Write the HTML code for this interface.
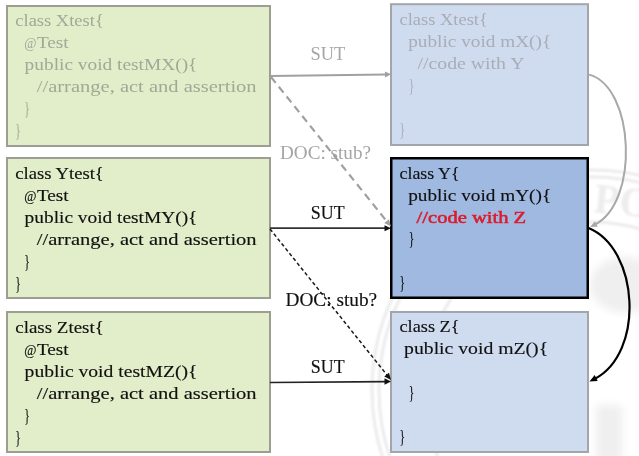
<!DOCTYPE html>
<html><head><meta charset="utf-8"><style>
html,body{margin:0;padding:0;background:#fff;width:639px;height:456px;overflow:hidden}
svg{display:block;will-change:transform}
text{font-family:"Liberation Serif",serif;white-space:pre;stroke-width:0.15px}
</style></head><body>
<svg width="639" height="456" viewBox="0 0 639 456">
<defs><filter id="bl" x="-50%" y="-50%" width="200%" height="200%"><feGaussianBlur stdDeviation="4"/></filter><filter id="bl1"><feGaussianBlur stdDeviation="0.8"/></filter></defs>
<g fill="none" stroke="#ebebeb" stroke-width="3" filter="url(#bl1)"><circle cx="592" cy="390" r="220"/><circle cx="592" cy="390" r="213"/><circle cx="592" cy="390" r="168"/></g>
<text x="594" y="214" font-size="42" font-weight="bold" fill="#ededed" stroke="none" transform="rotate(6 610 200)" filter="url(#bl1)">PO</text>
<g fill="#efefef" filter="url(#bl)"><ellipse cx="625" cy="285" rx="35" ry="28"/><rect x="596" y="405" width="26" height="60"/></g>
<rect x="7" y="6" width="263" height="140" fill="#e2eec9" stroke="#9c9e94" stroke-width="2"/>
<text x="15.3" y="25.60" textLength="88.5" lengthAdjust="spacingAndGlyphs" fill="#a2a898" stroke="none" font-weight="normal" font-size="17.3">class Xtest{</text>
<text x="24.3" y="47.65" textLength="12.2" lengthAdjust="spacingAndGlyphs" fill="#a2a898" stroke="none" font-weight="normal" font-size="14.5">@</text>
<text x="36.9" y="47.65" textLength="31.8" lengthAdjust="spacingAndGlyphs" fill="#a2a898" stroke="none" font-weight="normal" font-size="17.3">Test</text>
<text x="24.6" y="69.70" textLength="172.8" lengthAdjust="spacingAndGlyphs" fill="#a2a898" stroke="none" font-weight="normal" font-size="17.3">public void testMX(){</text>
<text x="36.8" y="91.75" textLength="219.8" lengthAdjust="spacingAndGlyphs" fill="#a2a898" stroke="none" font-weight="normal" font-size="17.3">//arrange, act and assertion</text>
<text x="24.3" y="114.60" textLength="5.6" lengthAdjust="spacingAndGlyphs" fill="#a2a898" stroke="none" font-weight="normal" font-size="19.5">}</text>
<text x="15.2" y="136.65" textLength="5.6" lengthAdjust="spacingAndGlyphs" fill="#a2a898" stroke="none" font-weight="normal" font-size="19.5">}</text>
<rect x="7" y="158" width="263" height="140" fill="#e2eec9" stroke="#9c9e94" stroke-width="2"/>
<text x="15.3" y="179.20" textLength="88.5" lengthAdjust="spacingAndGlyphs" fill="#111" stroke="#111" font-weight="normal" font-size="17.3">class Ytest{</text>
<text x="24.3" y="201.15" textLength="12.2" lengthAdjust="spacingAndGlyphs" fill="#111" stroke="#111" font-weight="normal" font-size="14.5">@</text>
<text x="36.9" y="201.15" textLength="31.8" lengthAdjust="spacingAndGlyphs" fill="#111" stroke="#111" font-weight="normal" font-size="17.3">Test</text>
<text x="24.6" y="223.10" textLength="172.8" lengthAdjust="spacingAndGlyphs" fill="#111" stroke="#111" font-weight="normal" font-size="17.3">public void testMY(){</text>
<text x="36.8" y="245.05" textLength="219.8" lengthAdjust="spacingAndGlyphs" fill="#111" stroke="#111" font-weight="normal" font-size="17.3">//arrange, act and assertion</text>
<text x="24.3" y="267.80" textLength="5.6" lengthAdjust="spacingAndGlyphs" fill="#111" stroke="#111" font-weight="normal" font-size="19.5">}</text>
<text x="15.2" y="289.75" textLength="5.6" lengthAdjust="spacingAndGlyphs" fill="#111" stroke="#111" font-weight="normal" font-size="19.5">}</text>
<rect x="7" y="312" width="263" height="140" fill="#e2eec9" stroke="#9c9e94" stroke-width="2"/>
<text x="15.3" y="332.90" textLength="88.5" lengthAdjust="spacingAndGlyphs" fill="#111" stroke="#111" font-weight="normal" font-size="17.3">class Ztest{</text>
<text x="24.3" y="355.05" textLength="12.2" lengthAdjust="spacingAndGlyphs" fill="#111" stroke="#111" font-weight="normal" font-size="14.5">@</text>
<text x="36.9" y="355.05" textLength="31.8" lengthAdjust="spacingAndGlyphs" fill="#111" stroke="#111" font-weight="normal" font-size="17.3">Test</text>
<text x="24.6" y="377.20" textLength="172.8" lengthAdjust="spacingAndGlyphs" fill="#111" stroke="#111" font-weight="normal" font-size="17.3">public void testMZ(){</text>
<text x="36.8" y="399.35" textLength="219.8" lengthAdjust="spacingAndGlyphs" fill="#111" stroke="#111" font-weight="normal" font-size="17.3">//arrange, act and assertion</text>
<text x="24.3" y="422.30" textLength="5.6" lengthAdjust="spacingAndGlyphs" fill="#111" stroke="#111" font-weight="normal" font-size="19.5">}</text>
<text x="15.2" y="444.45" textLength="5.6" lengthAdjust="spacingAndGlyphs" fill="#111" stroke="#111" font-weight="normal" font-size="19.5">}</text>
<rect x="391" y="4.2" width="197" height="140.8" fill="#cfdbef" stroke="#a2a6ab" stroke-width="2"/>
<text x="399.5" y="24.70" textLength="88.3" lengthAdjust="spacingAndGlyphs" fill="#a8adb6" stroke="none" font-weight="normal" font-size="17.3">class Xtest{</text>
<text x="408.2" y="46.75" textLength="143" lengthAdjust="spacingAndGlyphs" fill="#a8adb6" stroke="none" font-weight="normal" font-size="17.3">public void mX(){</text>
<text x="417.5" y="68.80" textLength="107" lengthAdjust="spacingAndGlyphs" fill="#a8adb6" stroke="none" font-weight="normal" font-size="17.3">//code with Y</text>
<text x="408.8" y="91.65" textLength="5.6" lengthAdjust="spacingAndGlyphs" fill="#a8adb6" stroke="none" font-weight="normal" font-size="19.5">}</text>
<text x="399.4" y="135.75" textLength="5.6" lengthAdjust="spacingAndGlyphs" fill="#a8adb6" stroke="none" font-weight="normal" font-size="19.5">}</text>
<rect x="391.25" y="158.25" width="196.5" height="139.5" fill="#a0b9e1" stroke="#000" stroke-width="2.5"/>
<text x="399.5" y="178.80" textLength="60" lengthAdjust="spacingAndGlyphs" fill="#111" stroke="#111" font-weight="normal" font-size="17.3">class Y{</text>
<text x="408.2" y="200.65" textLength="143" lengthAdjust="spacingAndGlyphs" fill="#111" stroke="#111" font-weight="normal" font-size="17.3">public void mY(){</text>
<text x="416.6" y="223.00" textLength="109.6" lengthAdjust="spacingAndGlyphs" fill="#da1c2c" stroke="#da1c2c" font-weight="normal" font-size="17.3" style="stroke-width:0.55px">//code with Z</text>
<text x="408.8" y="245.15" textLength="5.6" lengthAdjust="spacingAndGlyphs" fill="#111" stroke="#111" font-weight="normal" font-size="19.5">}</text>
<text x="399.4" y="288.85" textLength="5.6" lengthAdjust="spacingAndGlyphs" fill="#111" stroke="#111" font-weight="normal" font-size="19.5">}</text>
<rect x="391" y="312" width="197" height="140" fill="#cfdbef" stroke="#a2a6ab" stroke-width="2"/>
<text x="399.5" y="331.60" textLength="60" lengthAdjust="spacingAndGlyphs" fill="#111" stroke="#111" font-weight="normal" font-size="17.3">class Z{</text>
<text x="404.1" y="353.75" textLength="144" lengthAdjust="spacingAndGlyphs" fill="#111" stroke="#111" font-weight="normal" font-size="17.3">public void mZ(){</text>
<text x="408.8" y="398.85" textLength="5.6" lengthAdjust="spacingAndGlyphs" fill="#111" stroke="#111" font-weight="normal" font-size="19.5">}</text>
<text x="399.4" y="443.15" textLength="5.6" lengthAdjust="spacingAndGlyphs" fill="#111" stroke="#111" font-weight="normal" font-size="19.5">}</text>
<text x="310.6" y="59.80" textLength="34.7" lengthAdjust="spacingAndGlyphs" fill="#a5a5a5" stroke="none" font-weight="normal" font-size="18.8">SUT</text>
<text x="280" y="158.60" textLength="91" lengthAdjust="spacingAndGlyphs" fill="#a5a5a5" stroke="none" font-weight="normal" font-size="18.8">DOC: stub?</text>
<text x="310.8" y="219.00" textLength="33.8" lengthAdjust="spacingAndGlyphs" fill="#111" stroke="#111" font-weight="normal" font-size="18.8">SUT</text>
<text x="285.5" y="305.80" textLength="91.6" lengthAdjust="spacingAndGlyphs" fill="#111" stroke="#111" font-weight="normal" font-size="18.8">DOC: stub?</text>
<text x="310.8" y="373.20" textLength="33.8" lengthAdjust="spacingAndGlyphs" fill="#111" stroke="#111" font-weight="normal" font-size="18.8">SUT</text>
<line x1="270" y1="76" x2="386" y2="74.4" stroke="#a0a0a0" stroke-width="2"/>
<path d="M391.00 74.30 L385.04 77.38 L384.96 71.38 Z" fill="#a0a0a0"/>
<line x1="271" y1="77" x2="387" y2="221.6" stroke="#a0a0a0" stroke-width="2.2" stroke-dasharray="7.5 5"/>
<path d="M391.00 226.60 L384.27 223.04 L388.93 219.27 Z" fill="#a0a0a0"/>
<line x1="270" y1="228.2" x2="386" y2="228.2" stroke="#333" stroke-width="1.7"/>
<path d="M391.00 228.20 L384.50 231.20 L384.50 225.20 Z" fill="#111"/>
<line x1="270" y1="229" x2="387" y2="375" stroke="#181818" stroke-width="1.5" stroke-dasharray="3.6 2.6"/>
<path d="M391.00 380.00 L384.28 376.41 L388.97 372.66 Z" fill="#111"/>
<line x1="270" y1="382.5" x2="386" y2="381.6" stroke="#222" stroke-width="1.7"/>
<path d="M391.00 381.50 L384.53 384.80 L384.47 378.30 Z" fill="#111"/>
<path d="M589 74.6 C 634.4 86.5, 640.1 202.8, 594 225" fill="none" stroke="#a8a8a8" stroke-width="2"/>
<path d="M590.00 227.00 L595.00 221.25 L597.61 226.66 Z" fill="#a8a8a8"/>
<path d="M588.5 228 C 639.2 248.7, 644.9 353.1, 594.5 379" fill="none" stroke="#000" stroke-width="2.2"/>
<path d="M589.50 381.40 L594.70 375.09 L597.66 380.88 Z" fill="#000"/>
</svg>
</body></html>
